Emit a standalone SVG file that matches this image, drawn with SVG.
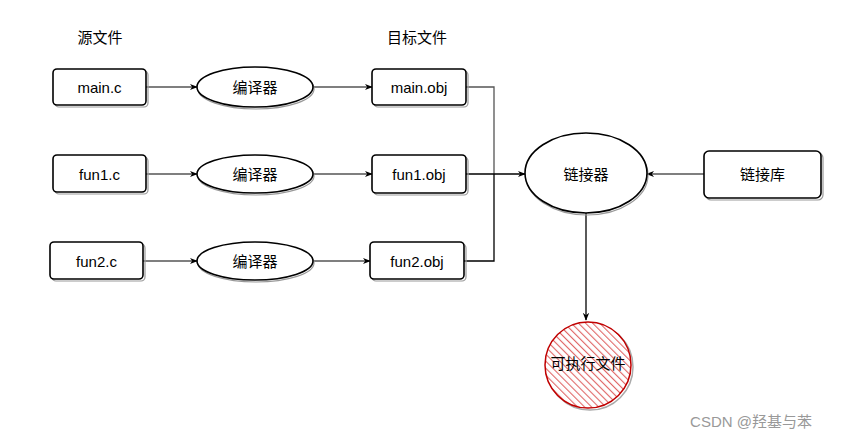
<svg xmlns="http://www.w3.org/2000/svg" width="849" height="440" viewBox="0 0 849 440">
<defs>
<marker id="arr" viewBox="0 0 10 10" refX="9" refY="5" markerWidth="8" markerHeight="8" orient="auto" markerUnits="userSpaceOnUse">
<path d="M0,1 L10,5 L0,9 L3,5 Z" fill="#000"/>
</marker>
<pattern id="hatch" patternUnits="userSpaceOnUse" width="5" height="5" patternTransform="rotate(-45)">
<rect width="5" height="5" fill="#fff"/>
<line x1="0" y1="0" x2="0" y2="5" stroke="#e06666" stroke-width="2.2"/>
</pattern>
</defs>
<style>
.t{font-family:"Liberation Sans","Noto Sans CJK SC",sans-serif;font-size:15px;fill:#000;text-anchor:middle;dominant-baseline:central}
.box{fill:#fff;stroke:#000;stroke-width:1.6}
.sh{fill:none;stroke:#999;stroke-width:1.2}
.c{fill:none;stroke:#555;stroke-width:1.3}
.cb{fill:none;stroke:#000;stroke-width:1.3}
</style>
<rect width="849" height="440" fill="#fff"/>
<g id="labels">
<text class="t" x="100" y="37">源文件</text>
<text class="t" x="417" y="37">目标文件</text>
</g>
<g id="connectors">
<line class="c" x1="146" y1="87" x2="197" y2="87" marker-end="url(#arr)"/>
<line class="c" x1="314" y1="87" x2="372" y2="87" marker-end="url(#arr)"/>
<line class="c" x1="146" y1="174" x2="197" y2="174" marker-end="url(#arr)"/>
<line class="c" x1="314" y1="174" x2="372" y2="174" marker-end="url(#arr)"/>
<line class="c" x1="143" y1="261" x2="197" y2="261" marker-end="url(#arr)"/>
<line class="c" x1="314" y1="261" x2="370" y2="261" marker-end="url(#arr)"/>
<polyline class="c" points="466,87 494,87 494,174"/>
<polyline class="cb" points="464,261 494,261 494,174"/>
<line class="cb" x1="466" y1="174" x2="525" y2="174" marker-end="url(#arr)"/>
<line class="c" x1="704" y1="174" x2="647" y2="174" marker-end="url(#arr)"/>
<line class="cb" x1="586" y1="213" x2="586" y2="320" marker-end="url(#arr)"/>
</g>
<g id="main_c">
<rect class="sh" x="55" y="71" width="93" height="36" rx="4"/>
<rect class="box" x="53" y="69" width="93" height="36" rx="4"/>
<text class="t" x="99.5" y="87">main.c</text>
</g>
<g id="fun1_c">
<rect class="sh" x="55" y="157" width="93" height="37" rx="4"/>
<rect class="box" x="53" y="155" width="93" height="37" rx="4"/>
<text class="t" x="99.5" y="174">fun1.c</text>
</g>
<g id="fun2_c">
<rect class="sh" x="52" y="244" width="93" height="37" rx="4"/>
<rect class="box" x="50" y="242" width="93" height="37" rx="4"/>
<text class="t" x="96.5" y="261">fun2.c</text>
</g>
<g id="compiler1">
<ellipse class="sh" cx="256" cy="89" rx="58" ry="20"/>
<ellipse class="box" cx="255" cy="87" rx="58" ry="20"/>
<text class="t" x="255" y="87">编译器</text>
</g>
<g id="compiler2">
<ellipse class="sh" cx="256" cy="176" rx="58" ry="19"/>
<ellipse class="box" cx="255" cy="174" rx="58" ry="19"/>
<text class="t" x="255" y="174">编译器</text>
</g>
<g id="compiler3">
<ellipse class="sh" cx="256" cy="263" rx="58" ry="19"/>
<ellipse class="box" cx="255" cy="261" rx="58" ry="19"/>
<text class="t" x="255" y="261">编译器</text>
</g>
<g id="main_obj">
<rect class="sh" x="374" y="71" width="94" height="36" rx="4"/>
<rect class="box" x="372" y="69" width="94" height="36" rx="4"/>
<text class="t" x="419" y="87">main.obj</text>
</g>
<g id="fun1_obj">
<rect class="sh" x="374" y="157" width="94" height="38" rx="4"/>
<rect class="box" x="372" y="155" width="94" height="38" rx="4"/>
<text class="t" x="419" y="174">fun1.obj</text>
</g>
<g id="fun2_obj">
<rect class="sh" x="372" y="244" width="94" height="37" rx="4"/>
<rect class="box" x="370" y="242" width="94" height="37" rx="4"/>
<text class="t" x="417" y="261">fun2.obj</text>
</g>
<g id="linker">
<ellipse class="sh" cx="587" cy="175" rx="61" ry="40"/>
<ellipse class="box" cx="586" cy="173" rx="61" ry="40"/>
<text class="t" x="586" y="174">链接器</text>
</g>
<g id="linklib">
<rect class="sh" x="706" y="153" width="117" height="47" rx="5"/>
<rect class="box" x="704" y="151" width="117" height="47" rx="5"/>
<text class="t" x="762.5" y="174">链接库</text>
</g>
<g id="exe">
<circle cx="590" cy="367" r="43" fill="none" stroke="#aaa" stroke-width="1.5"/>
<circle cx="588" cy="365" r="43" fill="url(#hatch)" stroke="#c00000" stroke-width="1.5"/>
<text class="t" x="588" y="363">可执行文件</text>
</g>
<g id="watermark">
<text x="751" y="421" font-family="Liberation Sans,'Noto Sans CJK SC',sans-serif" font-size="15" fill="#999" text-anchor="middle" dominant-baseline="central">CSDN @羟基与苯</text>
</g>
</svg>
